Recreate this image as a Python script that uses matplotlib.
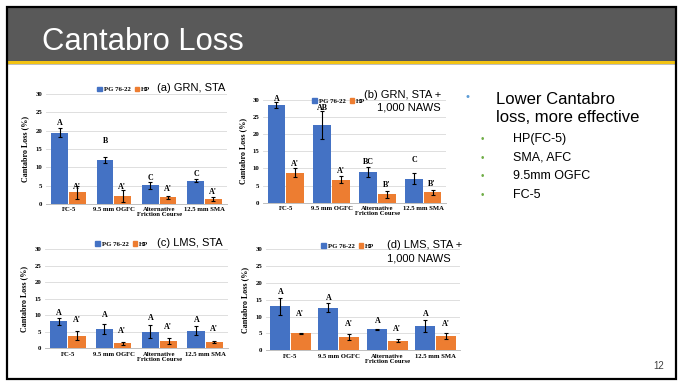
import matplotlib
matplotlib.use("Agg")
import matplotlib.pyplot as plt
from matplotlib.patches import Patch, Rectangle
import numpy as np

# ---- data -------------------------------------------------------------
categories = ["FC-5", "9.5 mm OGFC", "Alternative\nFriction Course", "12.5 mm SMA"]
series_names = ["PG 76-22", "HP"]
yticks = [0, 5, 10, 15, 20, 25, 30]

# (a) GRN, STA
a_pg = [19.5, 12.0, 5.1, 6.4]
a_pg_err = [1.2, 0.7, 0.9, 0.3]
a_hp = [3.2, 2.2, 1.8, 1.4]
a_hp_err = [1.7, 1.7, 0.5, 0.5]
a_pg_letters = ["A", "B", "C", "C"]
a_hp_letters = ["A'", "A'", "A'", "A'"]

# (b) GRN, STA + 1,000 NAWS
b_pg = [28.5, 22.6, 8.9, 7.0]
b_pg_err = [0.8, 4.1, 1.4, 1.6]
b_hp = [8.8, 6.7, 2.4, 3.0]
b_hp_err = [1.2, 1.0, 1.0, 0.7]
b_pg_letters = ["A", "AB", "BC", "C"]
b_hp_letters = ["A'", "A'", "B'", "B'"]

# (c) LMS, STA
c_pg = [8.1, 5.9, 5.0, 5.3]
c_pg_err = [1.1, 1.5, 1.9, 1.3]
c_hp = [3.8, 1.5, 2.2, 1.9]
c_hp_err = [1.3, 0.4, 0.8, 0.3]
c_pg_letters = ["A", "A", "A", "A"]
c_hp_letters = ["A'", "A'", "A'", "A'"]

# (d) LMS, STA + 1,000 NAWS
d_pg = [13.1, 12.6, 6.2, 7.2]
d_pg_err = [2.5, 1.3, 0.2, 1.8]
d_hp = [5.0, 3.9, 2.8, 4.2]
d_hp_err = [0.2, 0.8, 0.4, 0.9]
d_pg_letters = ["A", "A", "A", "A"]
d_hp_letters = ["A'", "A'", "A'", "A'"]

# heights (in % loss) at which the grouping letters sit
a_pg_lab_y = [22.2, 17.2, 7.2, 8.1]
a_hp_lab_y = [4.6, 4.6, 4.1, 3.3]
b_pg_lab_y = [30.2, 27.6, 11.8, 12.5]
b_hp_lab_y = [11.3, 9.3, 5.1, 5.5]
c_pg_lab_y = [10.6, 10.1, 9.3, 8.6]
c_hp_lab_y = [8.6, 5.2, 6.5, 5.9]
d_pg_lab_y = [17.4, 15.4, 8.7, 10.8]
d_hp_lab_y = [10.7, 7.7, 6.2, 7.7]

bullets = ["HP(FC-5)", "SMA, AFC", "9.5mm OGFC", "FC-5"]

# ---- styling ----------------------------------------------------------
BLUE = "#4472C4"
ORANGE = "#ED7D31"
SERIF = "Liberation Serif"
SANS = "Liberation Sans"
W, H = 683, 381

fig = plt.figure(figsize=(W / 100, H / 100), dpi=100)
fig.patch.set_facecolor("white")


def fx(px):
    return px / W


def fy(py):
    return 1 - py / H


# slide header and frame
fig.patches.append(Rectangle((fx(8), fy(61)), fx(667), 53 / H, transform=fig.transFigure,
                             facecolor="#595959", edgecolor="none", zorder=0))
fig.patches.append(Rectangle((fx(8), fy(63.5)), fx(667), 2.5 / H, transform=fig.transFigure,
                             facecolor="#F2C314", edgecolor="none", zorder=1))
fig.patches.append(Rectangle((fx(8), fy(65)), fx(667), 1.2 / H, transform=fig.transFigure,
                             facecolor="#BFBFBF", edgecolor="none", zorder=1))
fig.patches.append(Rectangle((fx(7), fy(378.5)), fx(669), 371.5 / H, transform=fig.transFigure,
                             facecolor="none", edgecolor="black", linewidth=1.6, zorder=2))
fig.text(fx(42), fy(42.5), "Cantabro Loss", color="white", fontsize=22.3,
         family=SANS, va="center", ha="left")
fig.text(fx(664), fy(366), "12", color="#404040", fontsize=7, family=SANS,
         va="center", ha="right")


def panel(rect_px, pg, pg_err, hp, hp_err, pg_let, hp_let, pg_ly, hp_ly,
          width, legend_xy, ylabel_x):
    x0, y0, x1, y1 = rect_px
    ax = fig.add_axes([fx(x0), fy(y1), (x1 - x0) / W, (y1 - y0) / H])
    x = np.arange(len(categories))
    ekw = dict(ecolor="black", elinewidth=0.8, capsize=1.3, capthick=0.8)
    ax.bar(x - width / 2 - 0.01, pg, width, color=BLUE, yerr=pg_err, error_kw=ekw, zorder=3)
    ax.bar(x + width / 2 + 0.01, hp, width, color=ORANGE, yerr=hp_err, error_kw=ekw, zorder=3)
    for i in range(len(categories)):
        ax.text(x[i] - width / 2, pg_ly[i], pg_let[i], ha="center", va="center",
                fontsize=5.8, family=SERIF, fontweight="bold", zorder=4)
        ax.text(x[i] + width / 2, hp_ly[i], hp_let[i], ha="center", va="center",
                fontsize=5.8, family=SERIF, fontweight="bold", zorder=4)
    ax.set_xlim(-0.5, len(categories) - 0.5)
    ax.set_ylim(0, 30)
    ax.set_yticks(yticks)
    ax.set_xticks(x)
    ax.set_xticklabels(categories, fontsize=4.8, family=SERIF, fontweight="bold",
                       linespacing=1.0)
    for lab in ax.get_yticklabels():
        lab.set_fontsize(4.9)
        lab.set_family(SERIF)
        lab.set_fontweight("bold")
    ax.tick_params(length=0, pad=2.5)
    ax.grid(axis="y", color="#D9D9D9", linewidth=0.6, zorder=0)
    for s in ["top", "right", "left"]:
        ax.spines[s].set_visible(False)
    ax.spines["bottom"].set_color("#BFBFBF")
    ax.spines["bottom"].set_linewidth(0.7)
    ax.set_facecolor("none")
    fig.text(fx(ylabel_x), fy((y0 + y1) / 2), "Cantabro Loss (%)", rotation=90,
             ha="center", va="center", fontsize=5.8, family=SERIF, fontweight="bold")
    handles = [Patch(color=BLUE), Patch(color=ORANGE)]
    fig.legend(handles, series_names, loc="center",
               bbox_to_anchor=(fx(legend_xy[0]), fy(legend_xy[1])),
               bbox_transform=fig.transFigure, ncol=2, frameon=False,
               handlelength=0.6, handleheight=0.6, handletextpad=0.3,
               columnspacing=0.7, borderpad=0,
               prop=dict(family=SERIF, weight="bold", size=4.9))
    return ax


panel((46, 94, 227, 204), a_pg, a_pg_err, a_hp, a_hp_err, a_pg_letters, a_hp_letters,
      a_pg_lab_y, a_hp_lab_y, 0.37, (124, 89.5), 25)
panel((263, 100, 446, 202.7), b_pg, b_pg_err, b_hp, b_hp_err, b_pg_letters, b_hp_letters,
      b_pg_lab_y, b_hp_lab_y, 0.39, (339, 101), 243)
panel((45, 249, 228, 348.3), c_pg, c_pg_err, c_hp, c_hp_err, c_pg_letters, c_hp_letters,
      c_pg_lab_y, c_hp_lab_y, 0.38, (122, 244), 24)
panel((266, 249, 460, 350.3), d_pg, d_pg_err, d_hp, d_hp_err, d_pg_letters, d_hp_letters,
      d_pg_lab_y, d_hp_lab_y, 0.41, (348, 246), 245)

# panel captions
cap = dict(fontsize=8, family=SANS, va="center", ha="left")
fig.text(fx(157), fy(88), "(a) GRN, STA", **cap)
fig.text(fx(364), fy(95), "(b) GRN, STA +", **cap)
fig.text(fx(377), fy(108), "1,000 NAWS", **cap)
fig.text(fx(157), fy(243), "(c) LMS, STA", **cap)
fig.text(fx(387), fy(245), "(d) LMS, STA +", **cap)
fig.text(fx(387), fy(258.5), "1,000 NAWS", **cap)

# side notes
fig.text(fx(467), fy(97), "\u2022", color="#5B9BD5", fontsize=8, family=SANS,
         ha="center", va="center")
fig.text(fx(496), fy(99), "Lower Cantabro", fontsize=12, family=SANS, ha="left", va="center")
fig.text(fx(496), fy(117), "loss, more effective", fontsize=12, family=SANS, ha="left", va="center")
for i, b in enumerate(bullets):
    yy = 139 + i * 18.7
    fig.text(fx(482), fy(yy), "\u2022", color="#70AD47", fontsize=7, family=SANS,
             ha="center", va="center")
    fig.text(fx(513), fy(yy), b, fontsize=9, family=SANS, ha="left", va="center")

fig.savefig("out.png", dpi=100, facecolor="white")
